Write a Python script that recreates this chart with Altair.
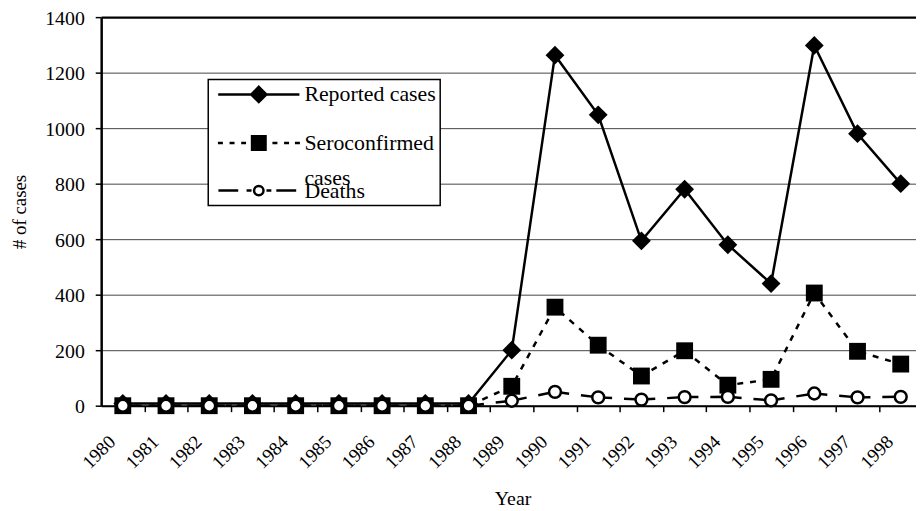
import altair as alt
import pandas as pd

# ---------------- data ----------------
years = [1980, 1981, 1982, 1983, 1984, 1985, 1986, 1987, 1988, 1989,
         1990, 1991, 1992, 1993, 1994, 1995, 1996, 1997, 1998]
reported = [8, 8, 8, 8, 8, 8, 8, 8, 8, 200,
            1263, 1048, 594, 780, 580, 440, 1298, 980, 800]
seroconfirmed = [0, 0, 0, 0, 0, 0, 0, 0, 0, 70,
                 355, 218, 107, 198, 74, 95, 406, 196, 150]
deaths = [0, 0, 0, 0, 0, 0, 0, 0, 0, 18,
          50, 30, 22, 31, 32, 19, 44, 30, 32]
series_names = ["Reported cases", "Seroconfirmed cases", "Deaths"]
y_ticks = [0, 200, 400, 600, 800, 1000, 1200, 1400]

rows = []
for name, vals in zip(series_names, [reported, seroconfirmed, deaths]):
    for yr, v in zip(years, vals):
        rows.append({"year": yr, "value": v, "series": name})
df = pd.DataFrame(rows)

FONT = "Liberation Serif"
BAND = 43.6          # px per category
PLOT_W, PLOT_H = 822, 392
LEG_LH = 13          # line height of the two-line legend label

# ------------- legend symbols (line + marker), in symbol units -------------
U = 8.5  # px per unit for legend symbol size 289


def seg(a, b, dy=0.0):
    return f"M{a:.2f},{dy:.2f}L{b:.2f},{dy:.2f}"


# a trailing lone move-to only widens the layout bounds of a legend row
path_reported = seg(-4.82, 4.82) + "M0,-0.9L0.9,0L0,0.9L-0.9,0Z" + "M0,3.73"
path_sero = (seg(-4.85, -4.26) + seg(-3.47, -2.88) + seg(-2.09, -1.51)
             + seg(1.62, 2.21) + seg(3.0, 3.59) + seg(4.29, 4.88)
             + "M-0.8,-0.8L0.8,-0.8L0.8,0.8L-0.8,0.8Z" + "M0,2.17")
d = LEG_LH / U
path_deaths = (seg(-4.79, -2.44, d) + seg(-1.45, -0.86, d) + seg(0.91, 1.49, d)
               + seg(2.08, 4.44, d)
               + f"M0.56,{d:.2f}A0.56,0.56 0 1,1 -0.56,{d:.2f}A0.56,0.56 0 1,1 0.56,{d:.2f}Z")

# ---------------- axes ----------------
x_axis = alt.Axis(
    values=years, title="Year", grid=False, format="d",
    tickOffset=BAND / 2, labelOffset=-BAND / 2 - 11,
    labelAngle=-45, labelAlign="right", labelBaseline="middle",
    labelPadding=27, labelFlush=False, labelOverlap=False,
    labelFontSize=19, tickSize=6, tickWidth=1.5, tickColor="black",
    domainColor="black", domainWidth=2,
    titleFontSize=20, titleFontWeight="normal",
    titleX=415, titleY=94, titleAlign="center", titleBaseline="middle",
)
y_axis = alt.Axis(
    values=y_ticks, title="# of cases", format="d",
    labelFontSize=20, labelPadding=11, labelOffset=1,
    tickSize=6, tickWidth=1.5, tickColor="black",
    domainColor="black", domainWidth=2.5,
    grid=True,
    gridColor={"condition": {"test": "datum.value == 1400", "value": "black"}, "value": "#444444"},
    gridWidth={"condition": {"test": "datum.value == 1400", "value": 2.5}, "value": 1},
    titleFontSize=19, titleFontWeight="normal", titleAngle=-90,
    titleX=-82, titleY=196, titleAlign="center", titleBaseline="middle",
)

x_enc = alt.X("year:Q", axis=x_axis,
              scale=alt.Scale(domain=[1979.5, 1979.5 + PLOT_W / BAND], nice=False, zero=False))
y_enc = alt.Y("value:Q", axis=y_axis, scale=alt.Scale(domain=[0, 1400], nice=False))

base = alt.Chart(df).encode(x=x_enc, y=y_enc)


def sel(name):
    return base.transform_filter(alt.datum.series == name)


line_rep = sel("Reported cases").mark_line(color="black", strokeWidth=2.5)
pts_rep = sel("Reported cases").mark_point(shape="diamond", filled=True, size=361,
                                           color="black", opacity=1)
line_sero = sel("Seroconfirmed cases").mark_line(color="black", strokeWidth=2.5,
                                                 strokeDash=[6, 7])
pts_sero = sel("Seroconfirmed cases").mark_point(shape="square", filled=True, size=289,
                                                 color="black", opacity=1)
line_death = sel("Deaths").mark_line(color="black", strokeWidth=2.5,
                                     strokeDash=[BAND - 12, 12], strokeDashOffset=16)
pts_death = sel("Deaths").mark_point(shape="circle", filled=True, size=143,
                                     fill="white", stroke="black", strokeWidth=2.5, opacity=1)

legend = alt.Legend(
    title=None, orient="none", legendX=108, legendY=63,
    padding=4, symbolOffset=36, labelOffset=35,
    symbolSize=289, symbolStrokeWidth=2.5, symbolStrokeColor="black", symbolOpacity=1,
    labelFontSize=22, labelFont=FONT, labelColor="black", labelLimit=400,
    labelExpr=("datum.label == 'Seroconfirmed cases' ? 'Seroconfirmed' : "
               "(datum.label == 'Deaths' ? ['cases', 'Deaths'] : datum.label)"),
    strokeColor="black", fillColor="white", rowPadding=0,
)
legend_layer = base.mark_point(opacity=0, filled=True, strokeWidth=2.5).encode(
    shape=alt.Shape("series:N", legend=legend,
                    scale=alt.Scale(domain=series_names,
                                    range=[path_reported, path_sero, path_deaths])),
    fill=alt.Fill("series:N", legend=legend,
                  scale=alt.Scale(domain=series_names, range=["black", "black", "white"])),
    stroke=alt.Stroke("series:N", legend=legend,
                      scale=alt.Scale(domain=series_names, range=["black", "black", "black"])),
)

chart = alt.layer(
    line_rep, pts_rep, line_sero, pts_sero, line_death, pts_death, legend_layer
).properties(
    width=PLOT_W, height=PLOT_H,
    autosize=alt.AutoSizeParams(type="none"),
    padding={"left": 94, "top": 7, "right": 0, "bottom": 103},
    background="white",
).configure(
    style={"guide-label": {"lineHeight": LEG_LH}}
).configure_view(stroke=None).configure_axis(
    labelFont=FONT, titleFont=FONT, labelColor="black", titleColor="black"
).configure_legend(strokeWidth=1.5)

chart.save("out.html", embed_options={"renderer": "svg", "actions": False})
